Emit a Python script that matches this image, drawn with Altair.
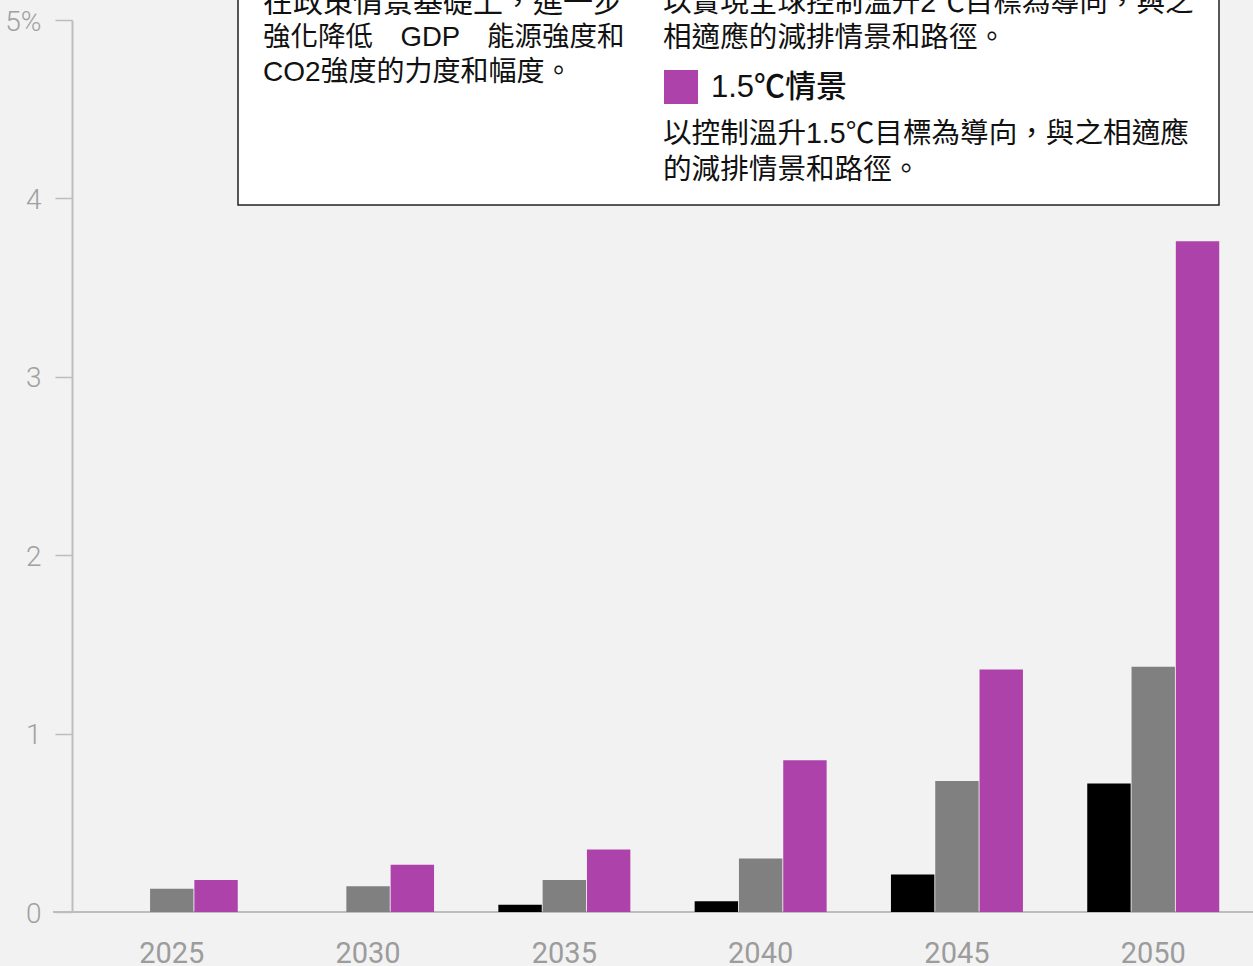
import altair as alt
import pandas as pd

years = ["2025", "2030", "2035", "2040", "2045", "2050"]
series = ["強化政策情景", "2℃情景", "1.5℃情景"]
colors = ["#000000", "#808080", "#ae42ab"]
black_vals = [0.0, 0.0, 0.04, 0.06, 0.21, 0.72]
grey_vals = [0.13, 0.145, 0.18, 0.30, 0.735, 1.375]
purple_vals = [0.18, 0.265, 0.35, 0.85, 1.36, 3.76]
y_ticks = [0, 1, 2, 3, 4, 5]

rows = []
for name, vals in zip(series, [black_vals, grey_vals, purple_vals]):
    for yr, v in zip(years, vals):
        rows.append({"year": yr, "series": name, "value": v})
df = pd.DataFrame(rows)

W, H = 1181, 892
LABELF = "Roboto, Liberation Sans, sans-serif"
TXT = "Liberation Sans, Noto Sans CJK TC, sans-serif"
AXIS_GREY = "#bdbdbd"
LABEL_GREY = "#a0a0a0"

one = pd.DataFrame({"k": [0]})

bars = alt.Chart(df).mark_bar().encode(
    x=alt.X("year:N", sort=years,
            scale=alt.Scale(paddingInner=0.3276, paddingOuter=0.172),
            axis=alt.Axis(title=None, labelAngle=0, domain=False, ticks=False,
                          labelFont=LABELF, labelFontWeight="normal", labelFontSize=29,
                          labelColor="#9c9c9c", labelPadding=27, labelBaseline="top")),
    xOffset=alt.XOffset("series:N", sort=series, scale=alt.Scale(paddingInner=0.02)),
    y=alt.Y("value:Q", scale=alt.Scale(domain=[0, 5], nice=False),
            axis=alt.Axis(title=None, values=y_ticks, grid=False,
                          labelExpr="datum.value == 5 ? '5%' : datum.label",
                          labelFont=LABELF, labelFontWeight=300, labelFontSize=28,
                          labelColor=LABEL_GREY, labelPadding=14, labelOffset=2,
                          tickSize=17, tickColor=AXIS_GREY, tickWidth=1.5,
                          domainColor=AXIS_GREY, domainWidth=2)),
    color=alt.Color("series:N", sort=series,
                    scale=alt.Scale(domain=series, range=colors), legend=None),
)

baseline = alt.Chart(one).mark_rule(color=AXIS_GREY, strokeWidth=2).encode(
    x=alt.value(-19), x2=alt.value(W + 5), y=alt.value(H)
)

box = alt.Chart(one).mark_rect(fill="white", stroke="#222222", strokeWidth=1.5).encode(
    x=alt.value(166), x2=alt.value(1147), y=alt.value(-40), y2=alt.value(185)
)

square = alt.Chart(one).mark_rect(fill="#ae42ab").encode(
    x=alt.value(592), x2=alt.value(626), y=alt.value(50), y2=alt.value(84)
)


def txt(s, x, y, size, weight="normal"):
    return alt.Chart(one).mark_text(
        text=s, align="left", baseline="middle", font=TXT, fontSize=size,
        fontWeight=weight, color="#111111"
    ).encode(x=alt.value(x), y=alt.value(y))


texts = [
    txt("在政策情景基礎上，進一步", 191, -17, 30),
    txt("強化降低　GDP　能源強度和", 191, 18, 27.5),
    txt("CO2強度的力度和幅度。", 191, 53, 28),
    txt("以實現全球控制溫升2℃目標為導向，與之", 591, -17, 28.6),
    txt("相適應的減排情景和路徑。", 591, 18, 28.6),
    txt("1.5℃情景", 639, 68, 31, 500),
    txt("以控制溫升1.5℃目標為導向，與之相適應", 591, 114, 28.6),
    txt("的減排情景和路徑。", 591, 150, 28.6),
]

chart = alt.layer(baseline, bars, box, square, *texts).properties(
    width=W, height=H,
    background="#f2f2f2",
    autosize=alt.AutoSizeParams(type="none"),
    padding={"left": 72, "top": 20, "right": 0, "bottom": 54},
).configure_view(stroke=None)

chart.save("out.html", embed_options={"renderer": "svg", "actions": False})
